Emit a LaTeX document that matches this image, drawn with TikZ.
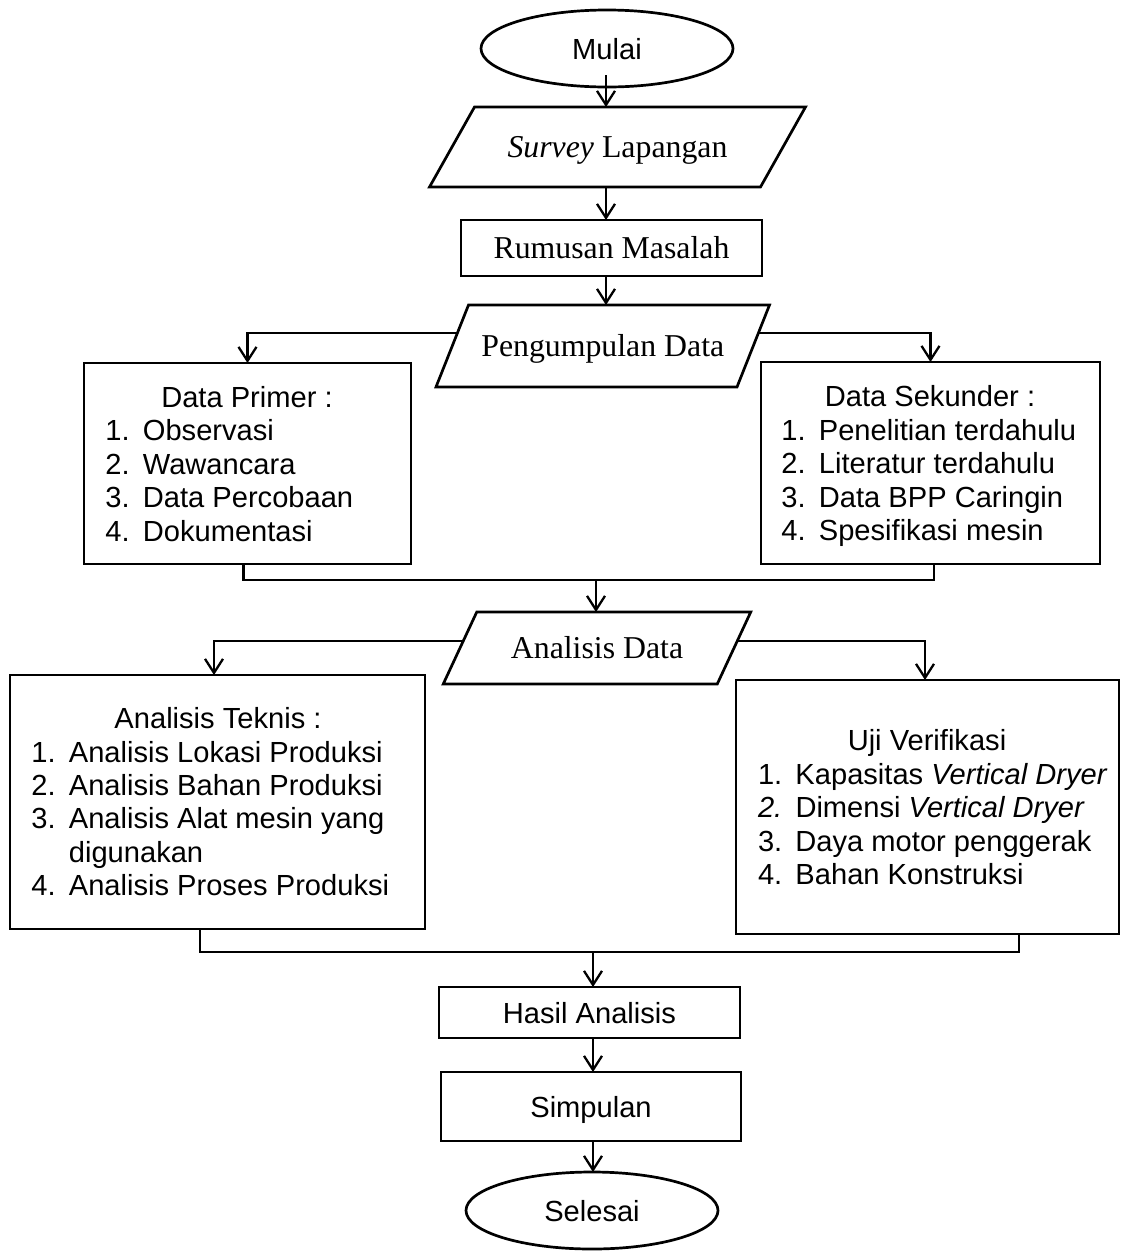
\documentclass[tikz,border=0pt]{standalone}
\usepackage{fontspec}
\setmainfont{Liberation Serif}
\newfontfamily\arialf{Liberation Sans}
\usetikzlibrary{shapes.geometric,arrows.meta,calc}
\newcommand\numlbl[1]{\makebox[37.5pt][l]{#1}}
\newcommand\drawpgram[2]{\draw[line width=2.7pt,line join=miter] ([xshift=#2]#1.north west) -- ([xshift=#2]#1.north east) -- ([xshift=-#2]#1.south east) -- ([xshift=-#2]#1.south west) -- cycle;}
\begin{document}
\begin{tikzpicture}[x=1pt,y=-1pt,
  every node/.style={inner sep=0pt,outer sep=0pt},
  sf/.style={font=\arialf\fontsize{29.1}{33.5}\selectfont},
  rm/.style={font=\fontsize{31.8}{36}\selectfont},
  single/.style={text height=21pt,text depth=0pt},
  box/.style={draw,rectangle,line width=2.7pt,single},
  term/.style={draw,ellipse,line width=2.7pt,minimum width=252pt,minimum height=77pt,single},
  pgbox/.style={rectangle,single},
  conn/.style={line width=2.3pt},
  arr/.style={line width=2.3pt,-{Straight Barb[length=14pt,width=18pt]}}]
\useasboundingbox (0,0) rectangle (1125,1251);

% main column
\node[term,sf] (mulai) at (607,48.5) {Mulai};
\node[pgbox,rm,minimum width=331pt,minimum height=80pt] (survey) at (617.5,147) {\textit{Survey} Lapangan};
\drawpgram{survey}{22.5pt}
\node[box,rm,minimum width=301pt,minimum height=56pt] (rumusan) at (611.5,248) {Rumusan Masalah};
\node[pgbox,rm,minimum width=301pt,minimum height=82pt] (pd) at (602.75,346) {Pengumpulan Data};
\drawpgram{pd}{16.25pt}

% data boxes
\node[box,minimum width=327pt,minimum height=201pt] (dp) at (247.5,463.5) {};
\node[sf,anchor=base] (dpt) at (247,407) {Data Primer :};
\node[sf,anchor=base west] (dp1) at (105.4,440.5) {\numlbl{1.}Observasi};
\node[sf,anchor=base west] (dp2) at (105.4,474) {\numlbl{2.}Wawancara};
\node[sf,anchor=base west] (dp3) at (105.4,507.5) {\numlbl{3.}Data Percobaan};
\node[sf,anchor=base west] (dp4) at (105.4,541) {\numlbl{4.}Dokumentasi};

\node[box,minimum width=339pt,minimum height=202pt] (ds) at (930.5,463) {};
\node[sf,anchor=base] (dst) at (930,406) {Data Sekunder :};
\node[sf,anchor=base west] (ds1) at (781.4,440) {\numlbl{1.}Penelitian terdahulu};
\node[sf,anchor=base west] (ds2) at (781.4,473.5) {\numlbl{2.}Literatur terdahulu};
\node[sf,anchor=base west] (ds3) at (781.4,507) {\numlbl{3.}Data BPP Caringin};
\node[sf,anchor=base west] (ds4) at (781.4,540.5) {\numlbl{4.}Spesifikasi mesin};

\node[pgbox,rm,minimum width=274pt,minimum height=72pt] (ad) at (597,648) {Analisis Data};
\drawpgram{ad}{16.75pt}

% analysis boxes
\node[box,minimum width=415pt,minimum height=254pt] (at) at (217.5,802) {};
\node[sf,anchor=base] (att) at (218,728) {Analisis Teknis :};
\node[sf,anchor=base west] (at1) at (31.4,762) {\numlbl{1.}Analisis Lokasi Produksi};
\node[sf,anchor=base west] (at2) at (31.4,795) {\numlbl{2.}Analisis Bahan Produksi};
\node[sf,anchor=base west] (at3) at (31.4,828.5) {\numlbl{3.}Analisis Alat mesin yang};
\node[sf,anchor=base west] (at3b) at (68.9,862) {digunakan};
\node[sf,anchor=base west] (at4) at (31.4,895.5) {\numlbl{4.}Analisis Proses Produksi};

\node[box,minimum width=383pt,minimum height=254pt] (uv) at (927.5,807) {};
\node[sf,anchor=base] (uvt) at (927,750) {Uji Verifikasi};
\node[sf,anchor=base west] (uv1) at (758,784) {\numlbl{1.}Kapasitas \textit{Vertical Dryer}};
\node[sf,anchor=base west] (uv2) at (758,817.5) {\numlbl{\textit{2.}}Dimensi \textit{Vertical Dryer}};
\node[sf,anchor=base west] (uv3) at (758,851) {\numlbl{3.}Daya motor penggerak};
\node[sf,anchor=base west] (uv4) at (758,884.5) {\numlbl{4.}Bahan Konstruksi};

% bottom column
\node[box,sf,minimum width=301pt,minimum height=51pt] (hasil) at (589.5,1012.5) {Hasil Analisis};
\node[box,sf,minimum width=300pt,minimum height=69pt] (simp) at (591,1106.5) {Simpulan};
\node[term,sf] (selesai) at (592,1210.5) {Selesai};

% connectors
\coordinate (cx1) at (606,0);
\draw[arr] ($(mulai.south -| cx1)+(0,-12)$) -- (survey.north -| cx1);
\draw[arr] (survey.south -| cx1) -- (rumusan.north -| cx1);
\draw[arr] (rumusan.south -| cx1) -- (pd.north -| cx1);
\draw[arr] ([xshift=5.15pt,yshift=13pt]pd.west) -| (dp.north);
\draw[arr] ([xshift=5.15pt,yshift=13pt]pd.east) -| (ds.north);
\coordinate (j1) at (596,580);
\draw[conn] ([xshift=-4pt]dp.south) |- (j1) -| ([xshift=3.5pt]ds.south);
\draw[arr] (j1) -- (ad.north -| j1);
\draw[arr] ([xshift=3.26pt,yshift=7pt]ad.west) -| ([xshift=-3.5pt]at.north);
\draw[arr] ([xshift=3.26pt,yshift=7pt]ad.east) -| ([xshift=-2.5pt]uv.north);
\coordinate (j2) at (593,952);
\draw[conn] ([xshift=-17.5pt]at.south) |- (j2) -| ([xshift=91.5pt]uv.south);
\draw[arr] (j2) -- (hasil.north -| j2);
\draw[arr] (hasil.south -| j2) -- (simp.north -| j2);
\draw[arr] (simp.south -| j2) -- (selesai.north -| j2);
\end{tikzpicture}
\end{document}
